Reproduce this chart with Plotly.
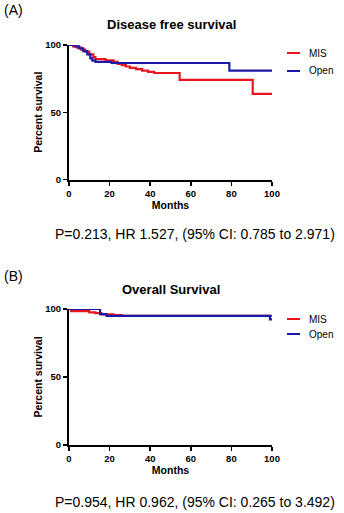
import plotly.graph_objects as go

# ---------------- Data ----------------
# Panel A: Disease free survival (step curves, months vs percent)
dfs_mis_t = [0, 2, 4, 6, 8, 10, 12, 13, 18, 22, 24, 26, 28, 30, 33, 36, 39, 42, 54.5, 90.5, 100]
dfs_mis_s = [100, 99, 98, 96.5, 95, 93, 91, 89.5, 88.5, 87.5, 86, 85, 84, 83, 82, 81, 80, 79.2, 74, 63.6, 63.6]
dfs_open_t = [0, 3, 5, 7, 9, 10.5, 11.5, 13, 21, 79, 100]
dfs_open_s = [100, 99, 97.5, 95.5, 93, 90, 88.4, 87.4, 86.6, 81, 81]

# Panel B: Overall survival
os_mis_t = [0, 1, 10, 13, 16, 22, 26, 100]
os_mis_s = [100, 98.5, 97.5, 97, 96, 95.5, 95, 95]
os_open_t = [0, 15.3, 18.5, 99, 100]
os_open_s = [100, 96.3, 94.9, 92.4, 92.4]

series_names = ["MIS", "Open"]
titles = ["Disease free survival", "Overall Survival"]
panel_labels = ["(A)", "(B)"]
stats_text = ["P=0.213, HR 1.527, (95% CI: 0.785 to 2.971)",
              "P=0.954, HR 0.962, (95% CI: 0.265 to 3.492)"]
x_ticks = [0, 20, 40, 60, 80, 100]
y_ticks = [0, 50, 100]

RED = "#e8151f"
BLUE = "#1a1aa6"
W, H = 344, 513
FONT = "Liberation Sans, Arial, sans-serif"

def py(pix):  # pixel row -> paper y
    return 1 - pix / H

def px(pix):
    return pix / W

fig = go.Figure()

panels = [
    (dfs_mis_t, dfs_mis_s, dfs_open_t, dfs_open_s, "x", "y"),
    (os_mis_t, os_mis_s, os_open_t, os_open_s, "x2", "y2"),
]
for (mt, ms, ot, os_, xa, ya) in panels:
    fig.add_trace(go.Scatter(x=mt, y=ms, mode="lines", line=dict(color=RED, width=2.2, shape="hv"),
                             name=series_names[0], xaxis=xa, yaxis=ya, showlegend=False, cliponaxis=False))
    fig.add_trace(go.Scatter(x=ot, y=os_, mode="lines", line=dict(color=BLUE, width=2.2, shape="hv"),
                             name=series_names[1], xaxis=xa, yaxis=ya, showlegend=False, cliponaxis=False))

# plot-area geometry (pixels)
x_left, x_right = 69, 272
panel_y = [(45, 179.5), (309, 445)]

axis_common = dict(showline=True, linecolor="black", linewidth=2, ticks="outside", ticklen=4,
                   tickwidth=1.5, tickcolor="black", showgrid=False, zeroline=False,
                   tickfont=dict(family=FONT, size=9.5, color="black", weight="bold"),
                   fixedrange=True, automargin=False)

layout = dict(width=W, height=H, margin=dict(l=0, r=0, t=0, b=0),
              paper_bgcolor="white", plot_bgcolor="white", showlegend=False)

for i, (top, bot) in enumerate(panel_y):
    sx = "" if i == 0 else "2"
    layout["xaxis" + sx] = dict(axis_common, domain=[px(x_left), px(x_right)], range=[0, 100],
                                tickvals=x_ticks, anchor="y" + sx,
                                title=dict(text="Months", standoff=2,
                                           font=dict(family=FONT, size=10.5, color="black", weight="bold")))
    layout["yaxis" + sx] = dict(axis_common, domain=[py(bot), py(top)], range=[0, 100],
                                tickvals=y_ticks, anchor="x" + sx,
                                title=dict(text="Percent survival", standoff=1,
                                           font=dict(family=FONT, size=10.5, color="black", weight="bold")))

fig.update_layout(**layout)

annotations = []
shapes = []
title_y = [24, 289]
label_y = [10, 276]
stats_y = [234, 502]
legend_y = [(53, 71), (319, 334)]
for i in range(2):
    annotations.append(dict(text="<b>%s</b>" % titles[i], x=px(171), y=py(title_y[i]), xref="paper", yref="paper",
                            showarrow=False, xanchor="center", yanchor="middle",
                            font=dict(family=FONT, size=13, color="black")))
    annotations.append(dict(text=panel_labels[i], x=px(2), y=py(label_y[i]), xref="paper", yref="paper",
                            showarrow=False, xanchor="left", yanchor="middle",
                            font=dict(family=FONT, size=14, color="black")))
    annotations.append(dict(text=stats_text[i], x=px(53), y=py(stats_y[i]), xref="paper", yref="paper",
                            showarrow=False, xanchor="left", yanchor="middle",
                            font=dict(family=FONT, size=14, color="black")))
    for name, color, ly in zip(series_names, [RED, BLUE], legend_y[i]):
        shapes.append(dict(type="line", xref="paper", yref="paper", x0=px(287), x1=px(300),
                           y0=py(ly), y1=py(ly), line=dict(color=color, width=2)))
        annotations.append(dict(text=name, x=px(307), y=py(ly), xref="paper", yref="paper",
                                showarrow=False, xanchor="left", yanchor="middle",
                                font=dict(family=FONT, size=10, color="black")))

fig.update_layout(annotations=annotations, shapes=shapes)
fig.write_html("out.html", config={"displayModeBar": False, "staticPlot": True},
               post_script="document.body.style.margin='0';document.body.style.overflow='hidden';")
